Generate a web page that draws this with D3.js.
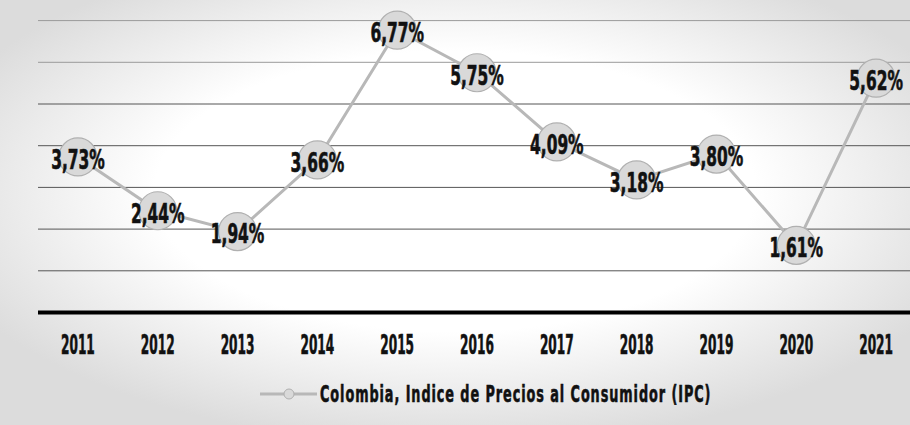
<!DOCTYPE html>
<html>
<head>
<meta charset="utf-8">
<script src="https://cdn.jsdelivr.net/npm/d3@7"></script>
<style>
  html, body { margin: 0; padding: 0; background: #fff; }
  svg { display: block; }
  .lbl { font-family: "Liberation Sans Narrow", "DejaVu Sans Condensed", "Roboto", sans-serif; font-weight: 700; fill: #111; stroke: #111; stroke-width: 0.6px; }
</style>
</head>
<body>
<svg id="chart" width="910" height="425"></svg>
<script>
// Colombia consumer price index (IPC), annual variation
const years = ["2011","2012","2013","2014","2015","2016","2017","2018","2019","2020","2021"];
const ipc = [3.73, 2.44, 1.94, 3.66, 6.77, 5.75, 4.09, 3.18, 3.80, 1.61, 5.62];
const valueLabels = ["3,73%","2,44%","1,94%","3,66%","6,77%","5,75%","4,09%","3,18%","3,80%","1,61%","5,62%"];
const gridTicks = [1, 2, 3, 4, 5, 6, 7];
const seriesName = "Colombia, Indice de Precios al Consumidor (IPC)";

const W = 910, H = 425;
const svg = d3.select("#chart");

// soft grey vignette behind the chart
const defs = svg.append("defs");
const rg = defs.append("radialGradient").attr("id", "bg")
  .attr("cx", "50%").attr("cy", "45%").attr("r", "60%");
rg.append("stop").attr("offset", "55%").attr("stop-color", "#ffffff");
rg.append("stop").attr("offset", "100%").attr("stop-color", "#dcdcdc");
svg.append("rect").attr("width", W).attr("height", H).attr("fill", "url(#bg)");

const x = d3.scaleBand().domain(years).range([38, 916]).padding(0);
const y = d3.scaleLinear().domain([0, 7]).range([312.5, 20.6]);
const cx = d => x(d) + x.bandwidth() / 2;

// horizontal gridlines
svg.append("g").selectAll("line").data(gridTicks).join("line")
  .attr("x1", 38).attr("x2", W)
  .attr("y1", d => y(d)).attr("y2", d => y(d))
  .attr("stroke", d => d >= 6 ? "#9a9a9a" : "#555")
  .attr("stroke-width", 1);

// x axis (baseline + year labels)
const xAxis = svg.append("g").attr("transform", `translate(0,${y(0)})`)
  .call(d3.axisBottom(x).tickSize(0).tickPadding(0));
xAxis.select(".domain").attr("d", `M38,0H${W}`).attr("stroke", "#000").attr("stroke-width", 4);
xAxis.selectAll(".tick text").remove();
xAxis.selectAll(".tick").append("g")
  .attr("transform", "translate(0,32) scale(0.5,1)")
  .append("text").attr("class", "lbl")
  .attr("text-anchor", "middle").attr("dominant-baseline", "central")
  .style("font-size", "27px")
  .text(d => d);

// series line
const pts = years.map((yr, i) => ({ yr, v: ipc[i], label: valueLabels[i] }));
svg.append("path").datum(pts)
  .attr("fill", "none").attr("stroke", "#b8b8b8").attr("stroke-width", 3)
  .attr("d", d3.line().x(d => cx(d.yr)).y(d => y(d.v)));

// markers
svg.append("g").selectAll("circle").data(pts).join("circle")
  .attr("cx", d => cx(d.yr)).attr("cy", d => y(d.v)).attr("r", 19)
  .attr("fill", "#d9d9d9").attr("stroke", "#b0b0b0").attr("stroke-width", 1.2);

// value labels
svg.append("g").selectAll("g").data(pts).join("g")
  .attr("transform", d => `translate(${cx(d.yr)},${y(d.v) + 3}) scale(0.66,1)`)
  .append("text").attr("class", "lbl")
  .attr("text-anchor", "middle").attr("dominant-baseline", "central")
  .style("font-size", "26px")
  .text(d => d.label);

// legend
const lg = svg.append("g").attr("transform", "translate(0,394)");
lg.append("line").attr("x1", 260).attr("x2", 317).attr("y1", 0).attr("y2", 0)
  .attr("stroke", "#b8b8b8").attr("stroke-width", 3);
lg.append("circle").attr("cx", 289).attr("cy", 0).attr("r", 5)
  .attr("fill", "#d9d9d9").attr("stroke", "#b0b0b0");
lg.append("g").attr("transform", "translate(320,0) scale(0.62,1)")
  .append("text").attr("class", "lbl")
  .attr("dominant-baseline", "central")
  .style("font-size", "23px").style("letter-spacing", "1.5px")
  .text(seriesName);
</script>
</body>
</html>
